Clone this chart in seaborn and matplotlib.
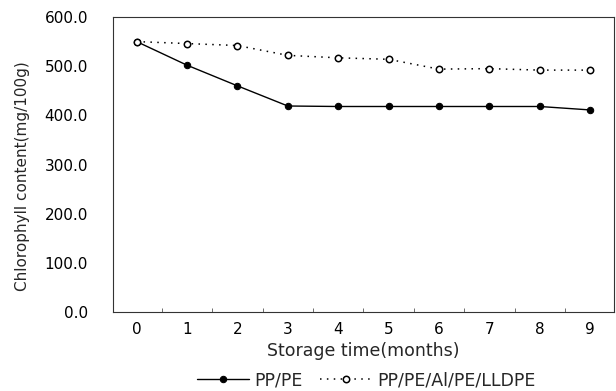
import pandas as pd
import matplotlib.pyplot as plt
import seaborn as sns

months = [0, 1, 2, 3, 4, 5, 6, 7, 8, 9]
pp_pe = [550, 502, 460, 419, 418, 418, 418, 418, 418, 411]
pp_pe_al = [550, 546, 542, 522, 517, 514, 494, 495, 492, 492]
yticks = [0, 100, 200, 300, 400, 500, 600]

df = pd.DataFrame({'month': months, 'PP/PE': pp_pe, 'PP/PE/Al/PE/LLDPE': pp_pe_al})

sns.set_theme(style='white')
plt.rcParams['font.family'] = ['DejaVu Sans']

fig = plt.figure(figsize=(6.16, 3.91), dpi=100)
ax = fig.add_axes([0.1834, 0.202, 0.813, 0.7545])

# solid line, filled markers
sns.lineplot(data=df, x='month', y='PP/PE', ax=ax, color='black', linewidth=1.0,
             marker='o', markersize=4.6, markerfacecolor='black', markeredgecolor='black',
             label='PP/PE')
# dotted line, open markers
sns.lineplot(data=df, x='month', y='PP/PE/Al/PE/LLDPE', ax=ax, color='black', linewidth=1.1,
             linestyle=(0, (1, 3.5)), marker='o', markersize=4.6, markerfacecolor='white',
             markeredgecolor='black', markeredgewidth=1.1, label='PP/PE/Al/PE/LLDPE')

ax.set_xlim(-0.47, 9.47)
ax.set_ylim(0, 600)
ax.set_xticks(months)
ax.set_xticklabels([str(m) for m in months])
ax.set_xticks([m + 0.5 for m in months[:-1]], minor=True)
ax.set_yticks(yticks)
ax.set_yticklabels([f'{v:.1f}' for v in yticks])
ax.tick_params(axis='both', which='major', labelsize=11, length=0, colors='black')
ax.tick_params(axis='x', which='minor', direction='in', length=3, width=0.6, color='#555555', bottom=True)
ax.tick_params(axis='x', which='major', pad=7)
ax.tick_params(axis='y', pad=18)

for s in ax.spines.values():
    s.set_color('#333333')
    s.set_linewidth(0.8)

ax.set_xlabel('Storage time(months)', fontsize=12.5, labelpad=4)
ax.set_ylabel('Chlorophyll content(mg/100g)', fontsize=11)
ax.yaxis.set_label_coords(-0.165, 0.461)

handles, labels = ax.get_legend_handles_labels()
ax.get_legend().remove()
fig.legend(handles, labels, loc='center', bbox_to_anchor=(0.595, 0.028), ncol=2,
           frameon=False, fontsize=12.5, handlelength=3.0, handletextpad=0.3, columnspacing=1.0)

fig.savefig('out.png', dpi=100)
